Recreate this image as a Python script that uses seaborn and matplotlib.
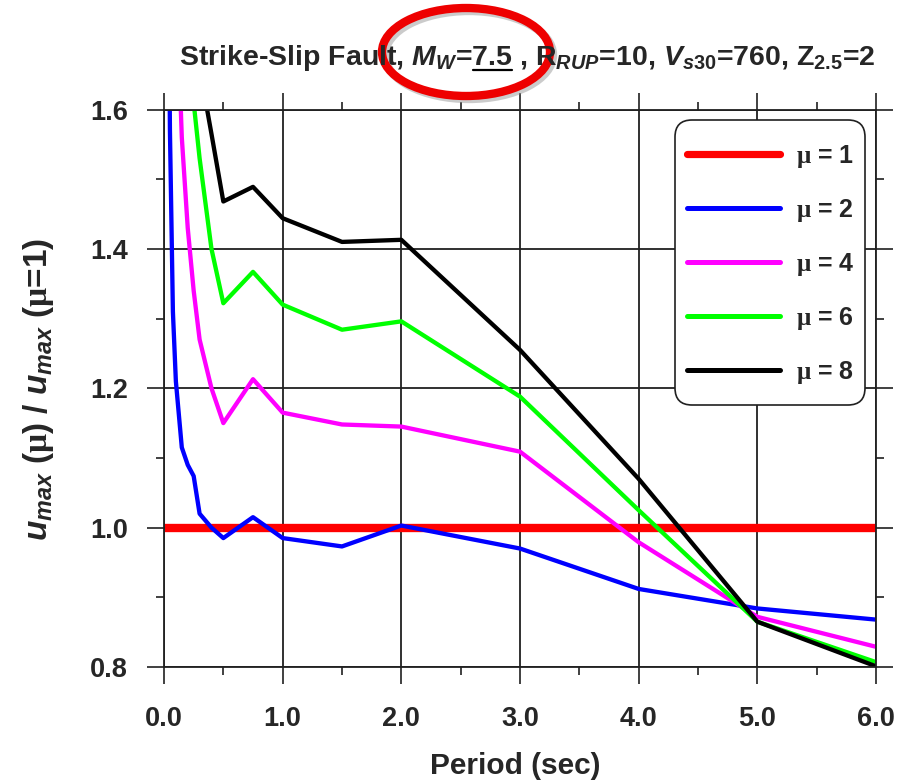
import numpy as np
import pandas as pd
import matplotlib
matplotlib.use("Agg")
import matplotlib.pyplot as plt
import seaborn as sns
from matplotlib.patches import Ellipse, FancyBboxPatch
from matplotlib.lines import Line2D
from matplotlib.ticker import MultipleLocator, FormatStrFormatter
from matplotlib.transforms import IdentityTransform

# data (ratio of max displacement, per ductility)
periods = [0.01, 0.02, 0.03, 0.05, 0.075, 0.1, 0.15, 0.2, 0.25, 0.3, 0.4,
           0.5, 0.75, 1.0, 1.5, 2.0, 3.0, 4.0, 5.0, 6.0]
nan = np.nan
ratio_mu1 = [1.0] * len(periods)
ratio_mu2 = [nan, nan, 2.0, 1.57, 1.31, 1.21, 1.115, 1.09, 1.074, 1.02, 1.0,
             0.985, 1.015, 0.985, 0.973, 1.003, 0.970, 0.912, 0.884, 0.868]
ratio_mu4 = [nan, nan, nan, nan, nan, 1.80, 1.56, 1.43, 1.34, 1.27, 1.20,
             1.15, 1.213, 1.165, 1.148, 1.145, 1.109, 0.979, 0.872, 0.829]
ratio_mu6 = [nan, nan, nan, nan, nan, nan, nan, 1.78, 1.61, 1.53, 1.40,
             1.322, 1.367, 1.32, 1.284, 1.296, 1.188, 1.025, 0.865, 0.807]
ratio_mu8 = [nan, nan, nan, nan, nan, nan, nan, nan, nan, 1.66, 1.565,
             1.468, 1.489, 1.444, 1.41, 1.413, 1.255, 1.070, 0.865, 0.801]

mu_labels = ["1", "2", "4", "6", "8"]
colors = ["#ff0000", "#0000ff", "#ff00ff", "#00ff00", "#000000"]

frames = []
for mu, vals in zip(mu_labels, [ratio_mu1, ratio_mu2, ratio_mu4, ratio_mu6, ratio_mu8]):
    frames.append(pd.DataFrame({"period": periods, "ratio": vals, "mu": mu}))
df = pd.concat(frames, ignore_index=True).dropna()

sns.set_theme(style="white")
plt.rcParams["font.family"] = ["Liberation Sans", "DejaVu Sans"]
plt.rcParams["font.weight"] = "bold"
plt.rcParams["mathtext.fontset"] = "custom"
plt.rcParams["mathtext.rm"] = "Liberation Sans:bold"
plt.rcParams["mathtext.it"] = "Liberation Sans:italic:bold"
plt.rcParams["mathtext.bf"] = "Liberation Sans:bold"
plt.rcParams["mathtext.sf"] = "Liberation Serif"

W, H = 904, 780
fig = plt.figure(figsize=(W / 100, H / 100), dpi=100)
ax = fig.add_axes([164 / W, 1 - 667 / H, 712 / W, 557.5 / H])

sns.lineplot(data=df, x="period", y="ratio", hue="mu", size="mu",
             hue_order=mu_labels, palette=dict(zip(mu_labels, colors)),
             sizes={"1": 6.0, "2": 3.1, "4": 3.1, "6": 3.1, "8": 3.1},
             size_order=mu_labels, errorbar=None, legend=False, ax=ax)
for ln in ax.lines:
    ln.set_solid_capstyle("butt")

ax.set_xlim(0, 6)
ax.set_ylim(0.8, 1.6)
ax.xaxis.set_major_locator(MultipleLocator(1.0))
ax.xaxis.set_minor_locator(MultipleLocator(0.5))
ax.yaxis.set_major_locator(MultipleLocator(0.2))
ax.yaxis.set_minor_locator(MultipleLocator(0.1))
ax.xaxis.set_major_formatter(FormatStrFormatter("%.1f"))
ax.yaxis.set_major_formatter(FormatStrFormatter("%.1f"))
ax.grid(True, which="major", color="#202020", linewidth=1.3)
ax.set_axisbelow(True)
ax.tick_params(which="both", bottom=True, left=True, top=True, right=True,
               direction="out", color="#202020", width=1.2)
ax.tick_params(which="major", length=12, labelsize=19.5)
ax.tick_params(axis="x", which="major", pad=16)
ax.tick_params(axis="y", which="major", pad=14)
ax.tick_params(which="minor", length=5.5)
for lab in ax.get_xticklabels() + ax.get_yticklabels():
    lab.set_fontweight("bold")
for sp in ax.spines.values():
    sp.set_color("#202020")
    sp.set_linewidth(1.3)

ax.set_xlabel("Period (sec)", fontsize=21.5, fontweight="bold")
ax.xaxis.set_label_coords(0.493, -0.152)
ax.set_ylabel(r"$u_{max}$ ($\mathsf{\mu}$) / $u_{max}$ ($\mathsf{\mu}$=1)",
              fontsize=24, fontweight="bold")
ax.yaxis.set_label_coords(-0.152, 0.497)

# legend: rounded frame drawn separately, entries placed inside it
frame = FancyBboxPatch((675, H - 405), 190, 285, boxstyle="round,pad=0,rounding_size=17",
                       transform=IdentityTransform(), facecolor="white",
                       edgecolor="#202020", lw=1.2, zorder=5)
fig.add_artist(frame)
handles = [Line2D([0], [0], color=c, lw=(5.2 if i == 0 else 3.6)) for i, c in enumerate(colors)]
labels = [r"$\mathsf{\mu}$ = " + m for m in mu_labels]
leg = fig.legend(handles, labels, loc="upper left", bbox_to_anchor=(687, H - 143),
                 bbox_transform=IdentityTransform(), borderaxespad=0, borderpad=0,
                 fontsize=18, handlelength=3.7, handletextpad=0.65,
                 labelspacing=1.08, frameon=False)
leg.set_zorder(6)

title = r"Strike-Slip Fault, $M_W$=7.5 , R$_{RUP}$=10, $V_{s30}$=760, Z$_{2.5}$=2"
fs_t = 20.5
ttl = fig.text(527 / W, 1 - 65 / H, title, ha="center", va="baseline",
               fontsize=fs_t, fontweight="bold")

# underline under 7.5
fig.canvas.draw()
r = fig.canvas.get_renderer()
bb = ttl.get_window_extent(r)
pre1 = fig.text(0, 0, r"Strike-Slip Fault, $M_W$=", fontsize=fs_t, fontweight="bold")
pre2 = fig.text(0, 0, r"Strike-Slip Fault, $M_W$=7.5", fontsize=fs_t, fontweight="bold")
w1 = pre1.get_window_extent(r).width
w2 = pre2.get_window_extent(r).width
pre1.remove()
pre2.remove()
uy = H - 70
fig.add_artist(Line2D([bb.x0 + w1 + 1, bb.x0 + w2], [uy, uy], color="black",
                      lw=1.6, transform=IdentityTransform()))

# red ellipse marking the magnitude
shadow = Ellipse((469, H - 55), 168, 88, transform=IdentityTransform(),
                 fill=False, edgecolor="#999999", lw=6, alpha=0.5)
fig.add_artist(shadow)
ring = Ellipse((466, H - 52), 168, 88, transform=IdentityTransform(),
               fill=False, edgecolor="#ee0000", lw=6)
fig.add_artist(ring)

fig.savefig("out.png", dpi=100)
